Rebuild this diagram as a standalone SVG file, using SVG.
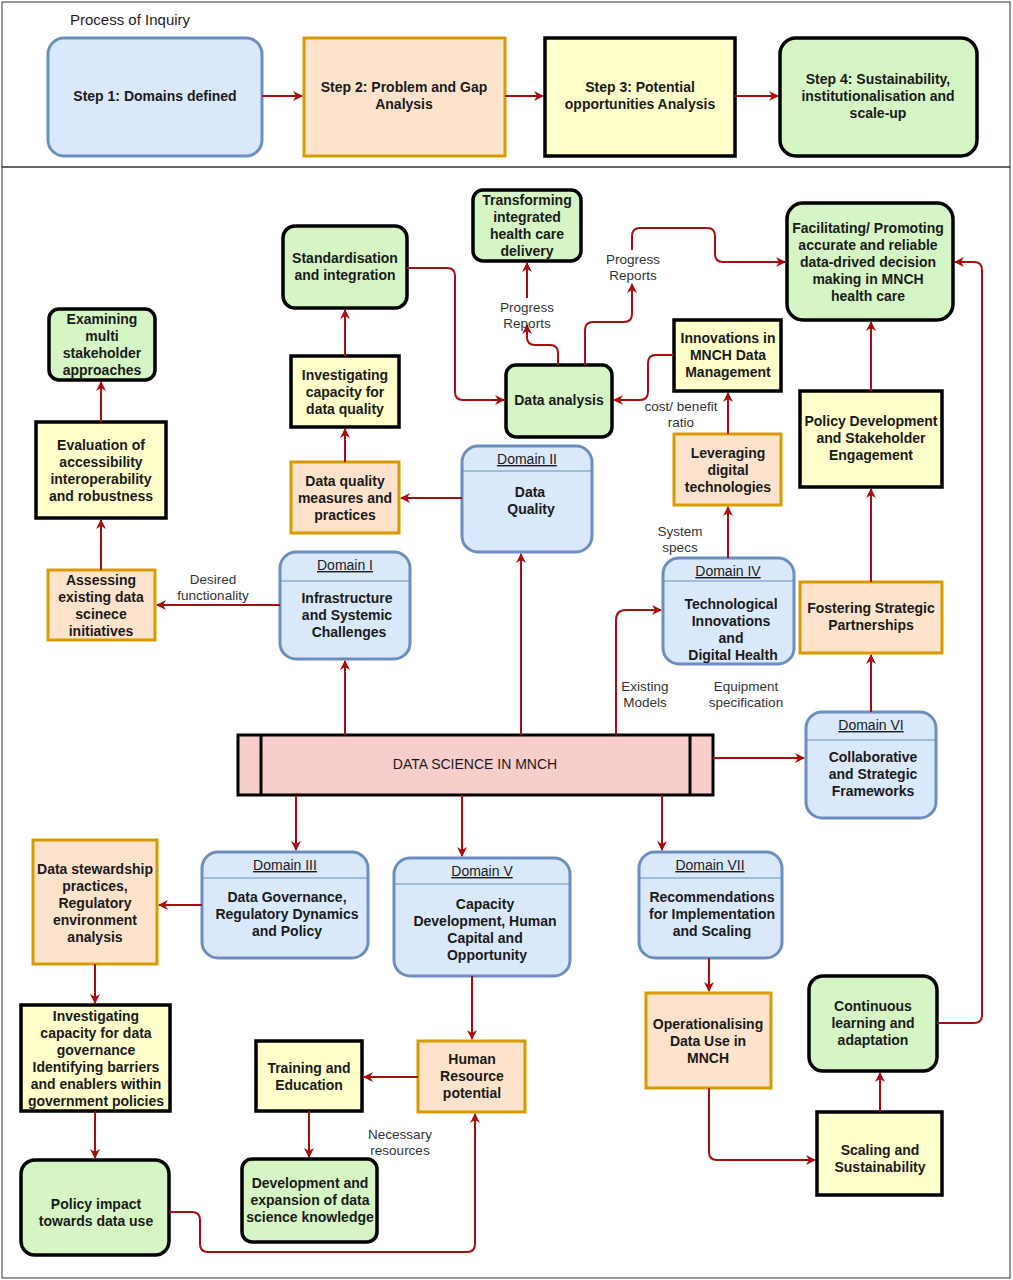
<svg xmlns="http://www.w3.org/2000/svg" width="1013" height="1280" viewBox="0 0 1013 1280">
<defs>
<marker id="ah" viewBox="0 0 10 10" refX="9" refY="5" markerWidth="5" markerHeight="5" orient="auto"><path d="M0,0 L10,5 L0,10 L3,5 Z" fill="#a50f0f"/></marker>
<style>
.t{font-family:"Liberation Sans",Arial,sans-serif;font-size:14px;font-weight:bold;fill:#1a1a1a;text-anchor:middle}
.l{font-family:"Liberation Sans",Arial,sans-serif;font-size:13.5px;fill:#333;text-anchor:middle}
.u{text-decoration:underline;font-weight:normal}
.blue{fill:#dae8fc;stroke:#6c8ebf;stroke-width:3}
.org{fill:#fde3cc;stroke:#d79b00;stroke-width:3}
.yel{fill:#ffffcc;stroke:#000;stroke-width:3.5}
.grn{fill:#d5f5c5;stroke:#000;stroke-width:3.5}
.c path{fill:none;stroke:#a50f0f;stroke-width:2;marker-end:url(#ah)}
.hl{stroke:#6c8ebf;stroke-width:1.2}
</style>
</defs>
<rect x="0" y="0" width="1013" height="1280" fill="#fff"/>
<rect x="2" y="2" width="1008" height="165" fill="none" stroke="#333" stroke-width="1"/>
<rect x="2" y="167" width="1008" height="1111" fill="none" stroke="#333" stroke-width="1"/>
<text x="70" y="25" style="font-family:'Liberation Sans',Arial,sans-serif;font-size:15px;fill:#222">Process of Inquiry</text>

<g id="step1"><rect class="blue" x="48" y="38" width="214" height="118" rx="16"/><text class="t" x="155" y="101">Step 1: Domains defined</text></g>
<g id="step2"><rect class="org" x="304" y="38" width="201" height="118"/><text class="t" x="404" y="92">Step 2: Problem and Gap<tspan x="404" dy="17">Analysis</tspan></text></g>
<g id="step3"><rect class="yel" x="545" y="38" width="190" height="118"/><text class="t" x="640" y="92">Step 3: Potential<tspan x="640" dy="17">opportunities Analysis</tspan></text></g>
<g id="step4"><rect class="grn" x="780" y="38" width="197" height="118" rx="16"/><text class="t" x="878" y="84">Step 4: Sustainability,<tspan x="878" dy="17">institutionalisation and</tspan><tspan x="878" dy="17">scale-up</tspan></text></g>

<g id="examining"><rect class="grn" x="49" y="309" width="106" height="71" rx="10"/><text class="t" x="102" y="324">Examining<tspan x="102" dy="17">multi</tspan><tspan x="102" dy="17">stakeholder</tspan><tspan x="102" dy="17">approaches</tspan></text></g>
<g id="evaluation"><rect class="yel" x="36" y="422" width="130" height="96"/><text class="t" x="101" y="450">Evaluation of<tspan x="101" dy="17">accessibility</tspan><tspan x="101" dy="17">interoperability</tspan><tspan x="101" dy="17">and robustness</tspan></text></g>
<g id="assessing"><rect class="org" x="48" y="570" width="107" height="70"/><text class="t" x="101" y="585">Assessing<tspan x="101" dy="17">existing data</tspan><tspan x="101" dy="17">scinece</tspan><tspan x="101" dy="17">initiatives</tspan></text></g>
<g id="standardisation"><rect class="grn" x="283" y="226" width="124" height="82" rx="12"/><text class="t" x="345" y="263">Standardisation<tspan x="345" dy="17">and integration</tspan></text></g>
<g id="invdq"><rect class="yel" x="291" y="356" width="108" height="71"/><text class="t" x="345" y="380">Investigating<tspan x="345" dy="17">capacity for</tspan><tspan x="345" dy="17">data quality</tspan></text></g>
<g id="dqm"><rect class="org" x="291" y="462" width="108" height="71"/><text class="t" x="345" y="486">Data quality<tspan x="345" dy="17">measures and</tspan><tspan x="345" dy="17">practices</tspan></text></g>
<g id="domain1"><rect class="blue" x="280" y="552" width="130" height="107" rx="16"/><line class="hl" x1="281" y1="581" x2="409" y2="581"/><text class="t u" x="345" y="570">Domain I</text><text class="t" x="347" y="603">Infrastructure<tspan x="347" dy="17">and Systemic</tspan><tspan x="349" dy="17">Challenges</tspan></text></g>
<g id="domain2"><rect class="blue" x="462" y="446" width="130" height="106" rx="16"/><line class="hl" x1="463" y1="471" x2="591" y2="471"/><text class="t u" x="527" y="464">Domain II</text><text class="t" x="530" y="497">Data<tspan x="531" dy="17">Quality</tspan></text></g>
<g id="transforming"><rect class="grn" x="473" y="190" width="108" height="71" rx="10"/><text class="t" x="527" y="205">Transforming<tspan x="527" dy="17">integrated</tspan><tspan x="527" dy="17">health care</tspan><tspan x="527" dy="17">delivery</tspan></text></g>
<g id="dataanalysis"><rect class="grn" x="506" y="365" width="106" height="72" rx="10"/><text class="t" x="559" y="405">Data analysis</text></g>
<g id="innovations"><rect class="yel" x="674" y="320" width="107" height="71"/><text class="t" x="728" y="343">Innovations in<tspan x="728" dy="17">MNCH Data</tspan><tspan x="728" dy="17">Management</tspan></text></g>
<g id="leveraging"><rect class="org" x="674" y="434" width="107" height="71"/><text class="t" x="728" y="458">Leveraging<tspan x="728" dy="17">digital</tspan><tspan x="728" dy="17">technologies</tspan></text></g>
<g id="domain4"><rect class="blue" x="663" y="558" width="131" height="106" rx="16"/><line class="hl" x1="664" y1="581" x2="793" y2="581"/><text class="t u" x="728" y="576">Domain IV</text><text class="t" x="731" y="609">Technological<tspan x="731" dy="17">Innovations</tspan><tspan x="731" dy="17">and</tspan><tspan x="733" dy="17">Digital Health</tspan></text></g>
<g id="facilitating"><rect class="grn" x="787" y="203" width="166" height="117" rx="16"/><text class="t" x="868" y="233">Facilitating/ Promoting<tspan x="868" dy="17">accurate and reliable</tspan><tspan x="868" dy="17">data-drived decision</tspan><tspan x="868" dy="17">making in MNCH</tspan><tspan x="868" dy="17">health care</tspan></text></g>
<g id="policydev"><rect class="yel" x="800" y="391" width="142" height="96"/><text class="t" x="871" y="426">Policy Development<tspan x="871" dy="17">and Stakeholder</tspan><tspan x="871" dy="17">Engagement</tspan></text></g>
<g id="fostering"><rect class="org" x="800" y="582" width="142" height="71"/><text class="t" x="871" y="613">Fostering Strategic<tspan x="871" dy="17">Partnerships</tspan></text></g>
<g id="domain6"><rect class="blue" x="806" y="712" width="130" height="106" rx="16"/><line class="hl" x1="807" y1="740" x2="935" y2="740"/><text class="t u" x="871" y="730">Domain VI</text><text class="t" x="873" y="762">Collaborative<tspan x="873" dy="17">and Strategic</tspan><tspan x="873" dy="17">Frameworks</tspan></text></g>
<g id="datascience"><rect x="238" y="735" width="475" height="60" fill="#f8cecc" stroke="#000" stroke-width="3"/><line x1="261" y1="735" x2="261" y2="795" stroke="#000" stroke-width="3"/><line x1="690" y1="735" x2="690" y2="795" stroke="#000" stroke-width="3"/><text class="t" x="475" y="769" style="font-weight:normal">DATA SCIENCE IN MNCH</text></g>
<g id="domain3"><rect class="blue" x="202" y="852" width="166" height="106" rx="16"/><line class="hl" x1="203" y1="878" x2="367" y2="878"/><text class="t u" x="285" y="870">Domain III</text><text class="t" x="287" y="902">Data Governance,<tspan x="287" dy="17">Regulatory Dynamics</tspan><tspan x="287" dy="17">and Policy</tspan></text></g>
<g id="domain5"><rect class="blue" x="394" y="858" width="176" height="118" rx="16"/><line class="hl" x1="395" y1="884" x2="569" y2="884"/><text class="t u" x="482" y="876">Domain V</text><text class="t" x="485" y="909">Capacity<tspan x="485" dy="17">Development, Human</tspan><tspan x="485" dy="17">Capital and</tspan><tspan x="487" dy="17">Opportunity</tspan></text></g>
<g id="domain7"><rect class="blue" x="639" y="852" width="143" height="106" rx="16"/><line class="hl" x1="640" y1="878" x2="781" y2="878"/><text class="t u" x="710" y="870">Domain VII</text><text class="t" x="712" y="902">Recommendations<tspan x="712" dy="17">for Implementation</tspan><tspan x="712" dy="17">and Scaling</tspan></text></g>
<g id="stewardship"><rect class="org" x="33" y="840" width="124" height="124"/><text class="t" x="95" y="874">Data stewardship<tspan x="95" dy="17">practices,</tspan><tspan x="95" dy="17">Regulatory</tspan><tspan x="95" dy="17">environment</tspan><tspan x="95" dy="17">analysis</tspan></text></g>
<g id="invgov"><rect class="yel" x="21" y="1005" width="149" height="106"/><text class="t" x="96" y="1021">Investigating<tspan x="96" dy="17">capacity for data</tspan><tspan x="96" dy="17">governance</tspan><tspan x="96" dy="17">Identifying barriers</tspan><tspan x="96" dy="17">and enablers within</tspan><tspan x="96" dy="17">government policies</tspan></text></g>
<g id="policyimpact"><rect class="grn" x="21" y="1160" width="148" height="95" rx="14"/><text class="t" x="96" y="1209">Policy impact<tspan x="96" dy="17">towards data use</tspan></text></g>
<g id="training"><rect class="yel" x="256" y="1041" width="106" height="70"/><text class="t" x="309" y="1073">Training and<tspan x="309" dy="17">Education</tspan></text></g>
<g id="hr"><rect class="org" x="418" y="1041" width="107" height="71"/><text class="t" x="472" y="1064">Human<tspan x="472" dy="17">Resource</tspan><tspan x="472" dy="17">potential</tspan></text></g>
<g id="development"><rect class="grn" x="242" y="1159" width="135" height="83" rx="10"/><text class="t" x="310" y="1188">Development and<tspan x="310" dy="17">expansion  of data</tspan><tspan x="310" dy="17">science knowledge</tspan></text></g>
<g id="operationalising"><rect class="org" x="646" y="993" width="125" height="95"/><text class="t" x="708" y="1029">Operationalising<tspan x="708" dy="17">Data  Use in</tspan><tspan x="708" dy="17">MNCH</tspan></text></g>
<g id="continuous"><rect class="grn" x="809" y="976" width="128" height="95" rx="14"/><text class="t" x="873" y="1011">Continuous<tspan x="873" dy="17">learning and</tspan><tspan x="873" dy="17">adaptation</tspan></text></g>
<g id="scaling"><rect class="yel" x="817" y="1112" width="125" height="83"/><text class="t" x="880" y="1155">Scaling and<tspan x="880" dy="17">Sustainability</tspan></text></g>

<g id="connectors" class="c">
<path d="M262,96 H302"/><path d="M505,96 H543"/><path d="M735,96 H778"/>
<path d="M345,735 V661"/><path d="M521,735 V554"/><path d="M616,735 V620 Q616,610 626,610 H661"/>
<path d="M713,758 H804"/><path d="M296,795 V850"/><path d="M462,795 V856"/><path d="M662,795 V850"/>
<path d="M280,605 H157"/><path d="M101,570 V520"/><path d="M101,422 V382"/>
<path d="M462,498 H401"/><path d="M345,462 V429"/><path d="M345,356 V310"/>
<path d="M407,268 H447 Q455,268 455,276 V392 Q455,400 463,400 H504"/>
<path d="M558,365 V353 Q558,345 550,345 H535 Q527,345 527,337 V325"/>
<path d="M527,298 V263"/>
<path d="M585,365 V330 Q585,322 593,322 H624 Q632,322 632,314 V284"/>
<path d="M632,250 V236 Q632,228 640,228 H707 Q715,228 715,236 V254 Q715,262 723,262 H785"/>
<path d="M674,355 H656 Q648,355 648,363 V392 Q648,400 640,400 H614"/>
<path d="M728,434 V393"/><path d="M728,558 V507"/>
<path d="M871,712 V655"/><path d="M871,582 V489"/><path d="M871,391 V322"/>
<path d="M937,1023 H974 Q982,1023 982,1015 V270 Q982,262 974,262 H955"/>
<path d="M880,1112 V1073"/><path d="M709,1088 V1152 Q709,1160 717,1160 H815"/><path d="M709,958 V991"/>
<path d="M202,905 H159"/><path d="M95,964 V1003"/><path d="M95,1111 V1158"/>
<path d="M169,1212 H192 Q200,1212 200,1220 V1244 Q200,1252 208,1252 H467 Q475,1252 475,1244 V1114"/>
<path d="M472,976 V1039"/><path d="M418,1077 H364"/><path d="M309,1111 V1157"/>
</g>
<g id="labels">
<text class="l" x="213" y="584">Desired<tspan x="213" dy="16">functionality</tspan></text>
<text class="l" x="527" y="312">Progress<tspan x="527" dy="16">Reports</tspan></text>
<text class="l" x="633" y="264">Progress<tspan x="633" dy="16">Reports</tspan></text>
<text class="l" x="681" y="411">cost/ benefit<tspan x="681" dy="16">ratio</tspan></text>
<text class="l" x="680" y="536">System<tspan x="680" dy="16">specs</tspan></text>
<text class="l" x="645" y="691">Existing<tspan x="645" dy="16">Models</tspan></text>
<text class="l" x="746" y="691">Equipment<tspan x="746" dy="16">specification</tspan></text>
<text class="l" x="400" y="1139">Necessary<tspan x="400" dy="16">resources</tspan></text>
</g>
</svg>
